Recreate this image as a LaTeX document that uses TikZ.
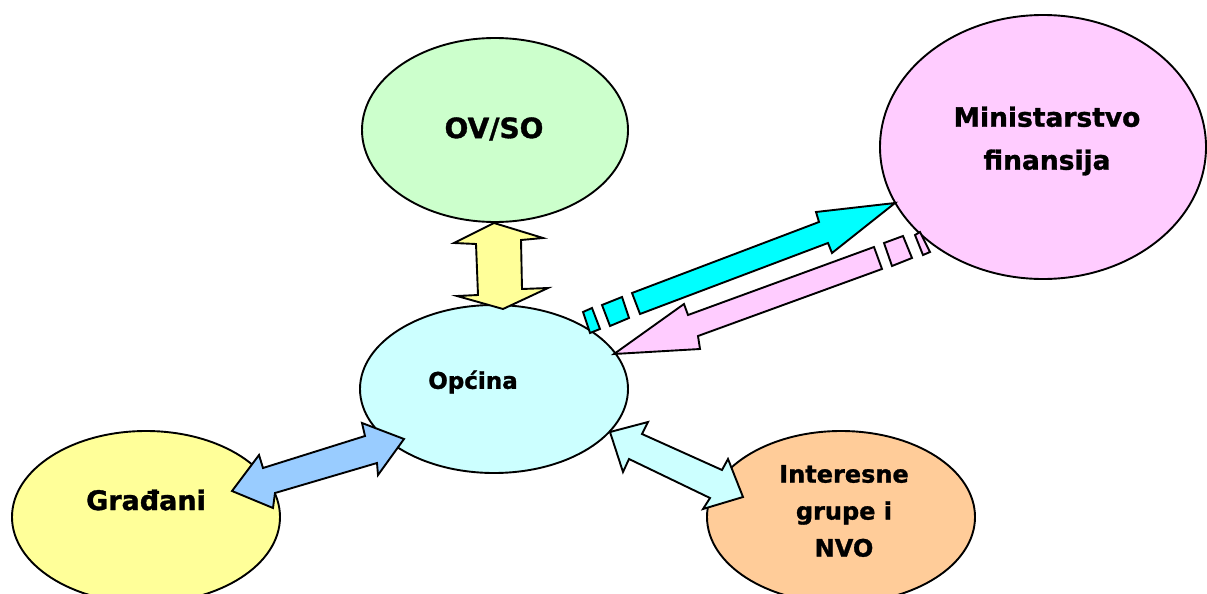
\documentclass[tikz,border=0pt]{standalone}
\usepackage{fontspec}
\setmainfont{DejaVu Sans}[BoldFeatures={FakeBold=1.2}]
\usetikzlibrary{shapes.geometric}
\definecolor{cGreen}{HTML}{CCFFCC}
\definecolor{cPink}{HTML}{FFCCFF}
\definecolor{cLCyan}{HTML}{CCFFFF}
\definecolor{cYellow}{HTML}{FFFF99}
\definecolor{cOrange}{HTML}{FFCC99}
\definecolor{cBlue}{HTML}{99CCFF}
\definecolor{cCyan}{HTML}{00FFFF}
\tikzset{
  bubble/.style={ellipse, draw=black, line width=1.9pt, inner sep=0pt},
  lbl/.style={align=center, inner sep=0pt},
  blockarrow/.style={draw=black, line width=1.9pt, line join=miter},
}
\begin{document}
\begin{tikzpicture}[x=1pt,y=-1pt]
\useasboundingbox (0,0) rectangle (1207,594);
% ellipses
\node[bubble, fill=cGreen, minimum width=266pt, minimum height=184pt] (ov) at (495,130) {};
\node[bubble, fill=cPink, minimum width=326pt, minimum height=264pt] (min) at (1043,147) {};
\node[bubble, fill=cLCyan, minimum width=268pt, minimum height=168pt] (op) at (494,389) {};
\node[bubble, fill=cYellow, minimum width=268pt, minimum height=172pt] (gr) at (146,517) {};
\node[bubble, fill=cOrange, minimum width=268pt, minimum height=172pt] (ig) at (841,517) {};
% labels
\node[lbl, font=\bfseries\fontsize{28}{34}\selectfont] (tov) at (494,129) {OV/SO};
\node[lbl, font=\bfseries\fontsize{26.5}{43}\selectfont] (tmin) at (1047,141) {Ministarstvo\\finansija};
\node[lbl, font=\bfseries\fontsize{23}{28}\selectfont] (top) at (473,382) {Općina};
\node[lbl, font=\bfseries\fontsize{27}{32}\selectfont] (tgr) at (146,500) {Građani};
\node[lbl, font=\bfseries\fontsize{24}{37}\selectfont] (tig) at (844,511) {Interesne\\grupe i\\NVO};
% yellow double arrow OV/SO <-> Opcina
\filldraw[blockarrow, fill=cYellow] (494,223) -- (543,238) -- (521,240) -- (522,289) -- (548,288) -- (503,309) -- (457,296) -- (478,295) -- (476,244) -- (454,243) -- cycle;
% blue double arrow Gradjani <-> Opcina
\filldraw[blockarrow, fill=cBlue] (232,491) -- (259,455) -- (263,468) -- (365,436) -- (362,423) -- (404,439) -- (378,475) -- (377,463) -- (275,493) -- (273,508) -- cycle;
% light cyan double arrow Opcina <-> Interesne
\filldraw[blockarrow, fill=cLCyan] (610,432) -- (648,422) -- (642,434) -- (722,470) -- (728,459) -- (743,497) -- (703,509) -- (710,498) -- (629,459) -- (623,472) -- cycle;
% cyan arrow Opcina -> Ministarstvo
\filldraw[blockarrow, fill=cCyan] (895,203) -- (816,212) -- (819,222) -- (632,293) -- (640,314) -- (828,243) -- (832,253) -- cycle;
\filldraw[blockarrow, fill=cCyan] (602,305) -- (622,297) -- (629,318) -- (610,326) -- cycle;
\filldraw[blockarrow, fill=cCyan] (583,312) -- (592,308) -- (600,329) -- (590,333) -- cycle;
% pink arrow Ministarstvo -> Opcina
\filldraw[blockarrow, fill=cPink] (614,354) -- (684,304) -- (688,315) -- (874,247) -- (882,269) -- (698,336) -- (700,349) -- cycle;
\filldraw[blockarrow, fill=cPink] (884,243) -- (903,236) -- (912,258) -- (892,266) -- cycle;
\filldraw[blockarrow, fill=cPink] (915,235) -- (920,232) -- (930,252) -- (923,255) -- cycle;
\end{tikzpicture}
\end{document}
